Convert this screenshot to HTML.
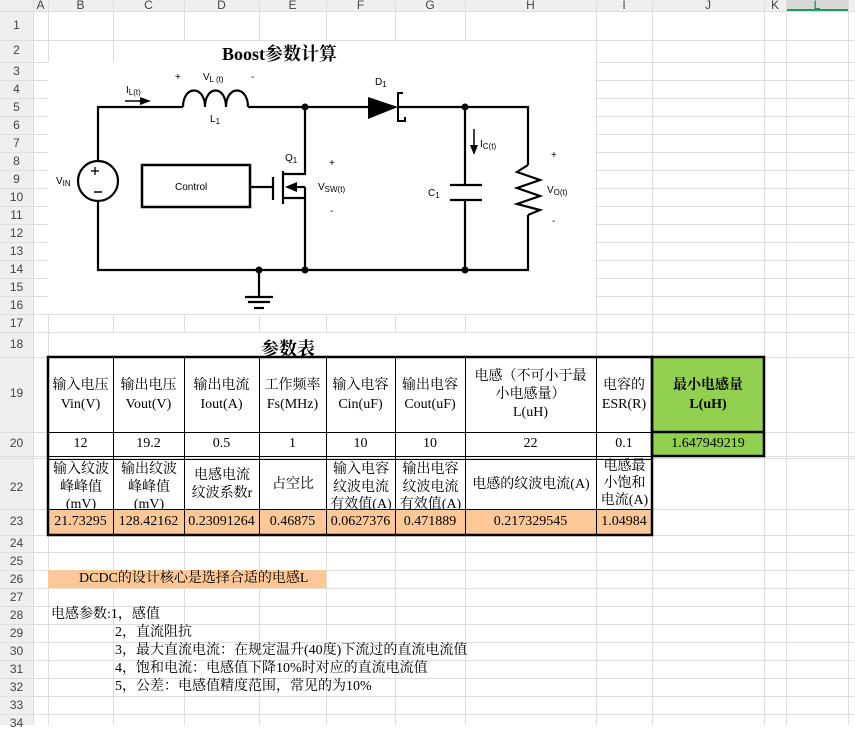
<!DOCTYPE html>
<html><head><meta charset="utf-8"><style>
body{margin:0;width:855px;height:725px;overflow:hidden;background:#fff;position:relative;font-family:"Liberation Serif","Noto Serif CJK SC",serif;}
.c{position:absolute;display:flex;align-items:center;justify-content:center;text-align:center;font-size:14px;line-height:17.5px;color:#000;overflow:hidden;box-sizing:border-box;}
.h{position:absolute;font-family:"Liberation Sans","Noto Sans CJK SC",sans-serif;font-size:12px;color:#444;text-align:center;}
.t{position:absolute;font-size:14px;white-space:nowrap;}
</style></head><body>
<svg width="855" height="725" style="position:absolute;left:0;top:0" xmlns="http://www.w3.org/2000/svg">
<rect x="0" y="0" width="855" height="11" fill="#efefef"/>
<rect x="0" y="0" width="33" height="725" fill="#efefef"/>
<rect x="786" y="0" width="62" height="11" fill="#d9d9d9"/>
<line x1="786" y1="10" x2="848" y2="10" stroke="#1e9c5a" stroke-width="2"/>
<g stroke="#dedede" stroke-width="1">
<line x1="33.5" y1="0" x2="33.5" y2="725"/>
<line x1="48.5" y1="0" x2="48.5" y2="725"/><line x1="113.5" y1="0" x2="113.5" y2="725"/><line x1="184.5" y1="0" x2="184.5" y2="725"/><line x1="259.5" y1="0" x2="259.5" y2="725"/><line x1="326.5" y1="0" x2="326.5" y2="725"/><line x1="395.5" y1="0" x2="395.5" y2="725"/><line x1="465.5" y1="0" x2="465.5" y2="725"/><line x1="596.5" y1="0" x2="596.5" y2="725"/><line x1="652.5" y1="0" x2="652.5" y2="725"/><line x1="764.5" y1="0" x2="764.5" y2="725"/><line x1="786.5" y1="0" x2="786.5" y2="725"/><line x1="848.5" y1="0" x2="848.5" y2="725"/>
<line x1="0" y1="11.5" x2="855" y2="11.5"/><line x1="0" y1="40.5" x2="855" y2="40.5"/><line x1="0" y1="62.5" x2="855" y2="62.5"/>
<line x1="0" y1="80.5" x2="855" y2="80.5"/><line x1="0" y1="98.5" x2="855" y2="98.5"/><line x1="0" y1="116.5" x2="855" y2="116.5"/><line x1="0" y1="134.5" x2="855" y2="134.5"/><line x1="0" y1="152.5" x2="855" y2="152.5"/><line x1="0" y1="170.5" x2="855" y2="170.5"/><line x1="0" y1="188.5" x2="855" y2="188.5"/><line x1="0" y1="206.5" x2="855" y2="206.5"/><line x1="0" y1="224.5" x2="855" y2="224.5"/><line x1="0" y1="242.5" x2="855" y2="242.5"/><line x1="0" y1="260.5" x2="855" y2="260.5"/><line x1="0" y1="278.5" x2="855" y2="278.5"/><line x1="0" y1="296.5" x2="855" y2="296.5"/><line x1="0" y1="314.5" x2="855" y2="314.5"/><line x1="0" y1="332.5" x2="855" y2="332.5"/><line x1="0" y1="357.5" x2="855" y2="357.5"/><line x1="0" y1="432.5" x2="855" y2="432.5"/><line x1="0" y1="456.5" x2="855" y2="456.5"/><line x1="0" y1="458.5" x2="855" y2="458.5"/><line x1="0" y1="509.5" x2="855" y2="509.5"/><line x1="0" y1="535.5" x2="855" y2="535.5"/><line x1="0" y1="552.5" x2="855" y2="552.5"/><line x1="0" y1="570.5" x2="855" y2="570.5"/><line x1="0" y1="588.5" x2="855" y2="588.5"/><line x1="0" y1="606.5" x2="855" y2="606.5"/><line x1="0" y1="624.5" x2="855" y2="624.5"/><line x1="0" y1="642.5" x2="855" y2="642.5"/><line x1="0" y1="660.5" x2="855" y2="660.5"/><line x1="0" y1="678.5" x2="855" y2="678.5"/><line x1="0" y1="696.5" x2="855" y2="696.5"/><line x1="0" y1="714.5" x2="855" y2="714.5"/>
</g>
<!-- merged title cells white -->
<rect x="114" y="41" width="481" height="21" fill="#fff"/>
<rect x="49" y="333" width="546" height="24" fill="#fff"/>
<!-- circuit image -->
<rect x="48" y="62" width="547" height="252" fill="#fff"/>
<g stroke="#000" stroke-width="2.2" fill="none">
<polyline points="183,107 98,107 98,161"/>
<polyline points="98,201 98,270 528,270 528,215"/>
<polyline points="248,107 368,107"/>
<polyline points="398,107 528,107 528,165"/>
<path d="M183,107 C183,85 205,85 205,107 C205,85 226,85 226,107 C226,85 248,85 248,107"/>
<circle cx="98" cy="181" r="20"/>
<rect x="142" y="165" width="108" height="42" stroke-width="2.5"/>
<line x1="250" y1="187" x2="273" y2="187"/>
<line x1="273" y1="177" x2="273" y2="200"/>
<line x1="283" y1="171" x2="283" y2="204"/>
<polyline points="283,174 305,174 305,107"/>
<polyline points="283,198 305,198 305,270"/>
<line x1="295" y1="187" x2="305" y2="187"/>
<line x1="305" y1="187" x2="305" y2="198"/>
<line x1="465" y1="107" x2="465" y2="185"/>
<line x1="465" y1="200" x2="465" y2="270"/>
<line x1="450" y1="185" x2="482" y2="185"/>
<line x1="450" y1="200" x2="482" y2="200"/>
<polyline points="528,165 517,172 540,180 517,188 540,196 517,204 540,210 528,215"/>
<line x1="259" y1="270" x2="259" y2="297"/>
<line x1="245" y1="297" x2="273" y2="297"/>
<line x1="248" y1="302" x2="270" y2="302"/>
<line x1="254" y1="308" x2="264" y2="308"/>
<polyline points="403,93 398,93 398,121 405,121 405,117" stroke-width="2"/>
<line x1="125" y1="101" x2="143" y2="101" stroke-width="1.5"/>
<line x1="474" y1="129" x2="474" y2="146" stroke-width="1.5"/>
<line x1="91" y1="171" x2="99" y2="171" stroke-width="1.3"/><line x1="95" y1="167" x2="95" y2="175" stroke-width="1.3"/>
<line x1="94" y1="192" x2="102" y2="192" stroke-width="1.5"/>
</g>
<g fill="#000">
<polygon points="368,97 398,107 368,119"/>
<polygon points="285,187 297,182 297,192"/>
<polygon points="140,97 151,101 140,105"/>
<polygon points="470,145 478,145 474,155"/>
<circle cx="305" cy="107" r="3.5"/><circle cx="465" cy="107" r="3.5"/>
<circle cx="259" cy="270" r="3.5"/><circle cx="305" cy="270" r="3.5"/><circle cx="465" cy="270" r="3.5"/>
</g>
<g font-family="Liberation Sans,sans-serif" font-size="10" fill="#000">
<text x="126" y="93">I<tspan font-size="8" dy="2">L(t)</tspan></text>
<text x="175" y="80">+</text>
<text x="203" y="80">V<tspan font-size="8" dy="2">L (t)</tspan></text>
<text x="251" y="80">-</text>
<text x="210" y="122">L<tspan font-size="8" dy="2">1</tspan></text>
<text x="375" y="85">D<tspan font-size="8" dy="2">1</tspan></text>
<text x="285" y="161">Q<tspan font-size="8" dy="2">1</tspan></text>
<text x="329" y="166">+</text>
<text x="318" y="190">V<tspan font-size="8" dy="2">SW(t)</tspan></text>
<text x="330" y="214">-</text>
<text x="56" y="184">V<tspan font-size="8" dy="2">IN</tspan></text>
<text x="175" y="190" font-size="10">Control</text>
<text x="480" y="147">I<tspan font-size="8" dy="2">C(t)</tspan></text>
<text x="428" y="196">C<tspan font-size="8" dy="2">1</tspan></text>
<text x="551" y="158">+</text>
<text x="547" y="193">V<tspan font-size="8" dy="2">O(t)</tspan></text>
<text x="552" y="224">-</text>
</g>
<!-- fills -->
<rect x="48" y="509" width="604" height="26" fill="#fdc898"/>
<rect x="652" y="357" width="112" height="99" fill="#92d050"/>
<rect x="48" y="570" width="278" height="18" fill="#fdc898"/>
<g stroke="#000" stroke-width="1">
<line x1="48" y1="432.5" x2="764" y2="432.5"/>
<line x1="48" y1="456.5" x2="652" y2="456.5"/>
<line x1="48" y1="459.5" x2="652" y2="459.5"/>
<line x1="48" y1="509.5" x2="652" y2="509.5"/>
<line x1="113.5" y1="357" x2="113.5" y2="535"/><line x1="184.5" y1="357" x2="184.5" y2="535"/><line x1="259.5" y1="357" x2="259.5" y2="535"/><line x1="326.5" y1="357" x2="326.5" y2="535"/><line x1="395.5" y1="357" x2="395.5" y2="535"/><line x1="465.5" y1="357" x2="465.5" y2="535"/><line x1="596.5" y1="357" x2="596.5" y2="535"/>
</g>
<g stroke="#000" stroke-width="2.5" fill="none">
<rect x="48" y="357" width="604" height="178"/>
<rect x="652" y="357" width="112" height="99"/>
<line x1="652" y1="432" x2="764" y2="432"/>
</g>
</svg>
<!-- headers -->
<div class="h" style="left:33px;top:-2px;width:15px">A</div><div class="h" style="left:48px;top:-2px;width:65px">B</div><div class="h" style="left:113px;top:-2px;width:71px">C</div><div class="h" style="left:184px;top:-2px;width:75px">D</div><div class="h" style="left:259px;top:-2px;width:67px">E</div><div class="h" style="left:326px;top:-2px;width:69px">F</div><div class="h" style="left:395px;top:-2px;width:70px">G</div><div class="h" style="left:465px;top:-2px;width:131px">H</div><div class="h" style="left:596px;top:-2px;width:56px">I</div><div class="h" style="left:652px;top:-2px;width:112px">J</div><div class="h" style="left:764px;top:-2px;width:22px">K</div><div class="h" style="left:786px;top:-2px;width:62px;color:#1e7a48">L</div>
<div class="h" style="left:0;top:18px;width:33px">1</div><div class="h" style="left:0;top:43px;width:33px">2</div>
<div class="h" style="left:0;top:64px;width:33px">3</div><div class="h" style="left:0;top:82px;width:33px">4</div><div class="h" style="left:0;top:100px;width:33px">5</div><div class="h" style="left:0;top:118px;width:33px">6</div><div class="h" style="left:0;top:136px;width:33px">7</div><div class="h" style="left:0;top:154px;width:33px">8</div><div class="h" style="left:0;top:172px;width:33px">9</div><div class="h" style="left:0;top:190px;width:33px">10</div><div class="h" style="left:0;top:208px;width:33px">11</div><div class="h" style="left:0;top:226px;width:33px">12</div><div class="h" style="left:0;top:244px;width:33px">13</div><div class="h" style="left:0;top:262px;width:33px">14</div><div class="h" style="left:0;top:280px;width:33px">15</div><div class="h" style="left:0;top:298px;width:33px">16</div><div class="h" style="left:0;top:316px;width:33px">17</div><div class="h" style="left:0;top:337px;width:33px">18</div><div class="h" style="left:0;top:386px;width:33px">19</div><div class="h" style="left:0;top:436px;width:33px">20</div><div class="h" style="left:0;top:480px;width:33px">22</div><div class="h" style="left:0;top:514px;width:33px">23</div><div class="h" style="left:0;top:536px;width:33px">24</div><div class="h" style="left:0;top:554px;width:33px">25</div><div class="h" style="left:0;top:572px;width:33px">26</div><div class="h" style="left:0;top:590px;width:33px">27</div><div class="h" style="left:0;top:608px;width:33px">28</div><div class="h" style="left:0;top:626px;width:33px">29</div><div class="h" style="left:0;top:644px;width:33px">30</div><div class="h" style="left:0;top:662px;width:33px">31</div><div class="h" style="left:0;top:680px;width:33px">32</div><div class="h" style="left:0;top:698px;width:33px">33</div><div class="h" style="left:0;top:716px;width:33px">34</div>
<!-- titles -->
<div class="t" style="left:222px;top:40px;font-size:18px;font-weight:bold;">Boost参数计算</div>
<div class="t" style="left:261px;top:335px;font-size:18px;font-weight:bold;">参数表</div>
<!-- row 19 -->
<div class="c" style="left:48px;top:357px;width:65px;height:75px;line-height:19px">输入电压<br>Vin(V)</div>
<div class="c" style="left:113px;top:357px;width:71px;height:75px;line-height:19px">输出电压<br>Vout(V)</div>
<div class="c" style="left:184px;top:357px;width:75px;height:75px;line-height:19px">输出电流<br>Iout(A)</div>
<div class="c" style="left:259px;top:357px;width:67px;height:75px;line-height:19px">工作频率<br>Fs(MHz)</div>
<div class="c" style="left:326px;top:357px;width:69px;height:75px;line-height:19px">输入电容<br>Cin(uF)</div>
<div class="c" style="left:395px;top:357px;width:70px;height:75px;line-height:19px">输出电容<br>Cout(uF)</div>
<div class="c" style="left:465px;top:357px;width:131px;height:75px;line-height:18px">电感（不可小于最<br>小电感量）<br>L(uH)</div>
<div class="c" style="left:596px;top:357px;width:56px;height:75px;line-height:19px">电容的<br>ESR(R)</div>
<div class="c" style="left:652px;top:357px;width:112px;height:75px;line-height:19px;font-weight:bold">最小电感量<br>L(uH)</div>
<!-- row 20 -->
<div class="c" style="left:48px;top:432px;width:65px;height:24px">12</div>
<div class="c" style="left:113px;top:432px;width:71px;height:24px">19.2</div>
<div class="c" style="left:184px;top:432px;width:75px;height:24px">0.5</div>
<div class="c" style="left:259px;top:432px;width:67px;height:24px">1</div>
<div class="c" style="left:326px;top:432px;width:69px;height:24px">10</div>
<div class="c" style="left:395px;top:432px;width:70px;height:24px">10</div>
<div class="c" style="left:465px;top:432px;width:131px;height:24px">22</div>
<div class="c" style="left:596px;top:432px;width:56px;height:24px">0.1</div>
<div class="c" style="left:652px;top:432px;width:112px;height:24px">1.647949219</div>
<!-- row 22 -->
<div class="c" style="left:49px;top:460px;width:64px;height:49px;align-items:flex-start;padding-top:1px">输入纹波<br>峰峰值<br>(mV)</div>
<div class="c" style="left:114px;top:460px;width:70px;height:49px;align-items:flex-start;padding-top:1px">输出纹波<br>峰峰值<br>(mV)</div>
<div class="c" style="left:185px;top:460px;width:74px;height:49px">电感电流<br>纹波系数r</div>
<div class="c" style="left:260px;top:460px;width:66px;height:49px">占空比</div>
<div class="c" style="left:327px;top:460px;width:68px;height:49px;align-items:flex-start;padding-top:1px">输入电容<br>纹波电流<br>有效值(A)</div>
<div class="c" style="left:396px;top:460px;width:69px;height:49px;align-items:flex-start;padding-top:1px">输出电容<br>纹波电流<br>有效值(A)</div>
<div class="c" style="left:466px;top:460px;width:130px;height:49px">电感的纹波电流(A)</div>
<div class="c" style="left:597px;top:458px;width:55px;height:51px;align-items:flex-start;line-height:17px">电感最<br>小饱和<br>电流(A)</div>
<!-- row 23 -->
<div class="c" style="left:48px;top:509px;width:65px;height:26px">21.73295</div>
<div class="c" style="left:113px;top:509px;width:71px;height:26px">128.42162</div>
<div class="c" style="left:184px;top:509px;width:75px;height:26px">0.23091264</div>
<div class="c" style="left:259px;top:509px;width:67px;height:26px">0.46875</div>
<div class="c" style="left:326px;top:509px;width:69px;height:26px">0.0627376</div>
<div class="c" style="left:395px;top:509px;width:70px;height:26px">0.471889</div>
<div class="c" style="left:465px;top:509px;width:131px;height:26px">0.217329545</div>
<div class="c" style="left:596px;top:509px;width:56px;height:26px">1.04984</div>
<!-- notes -->
<div class="t" style="left:79px;top:570px;line-height:18px">DCDC的设计核心是选择合适的电感L</div>
<div class="t" style="left:51px;top:606px;line-height:18px">电感参数:1，感值</div>
<div class="t" style="left:115px;top:624px;line-height:18px">2，直流阻抗</div>
<div class="t" style="left:115px;top:642px;line-height:18px">3，最大直流电流：在规定温升(40度)下流过的直流电流值</div>
<div class="t" style="left:115px;top:660px;line-height:18px">4，饱和电流：电感值下降10%时对应的直流电流值</div>
<div class="t" style="left:115px;top:678px;line-height:18px">5，公差：电感值精度范围，常见的为10%</div>
</body></html>
